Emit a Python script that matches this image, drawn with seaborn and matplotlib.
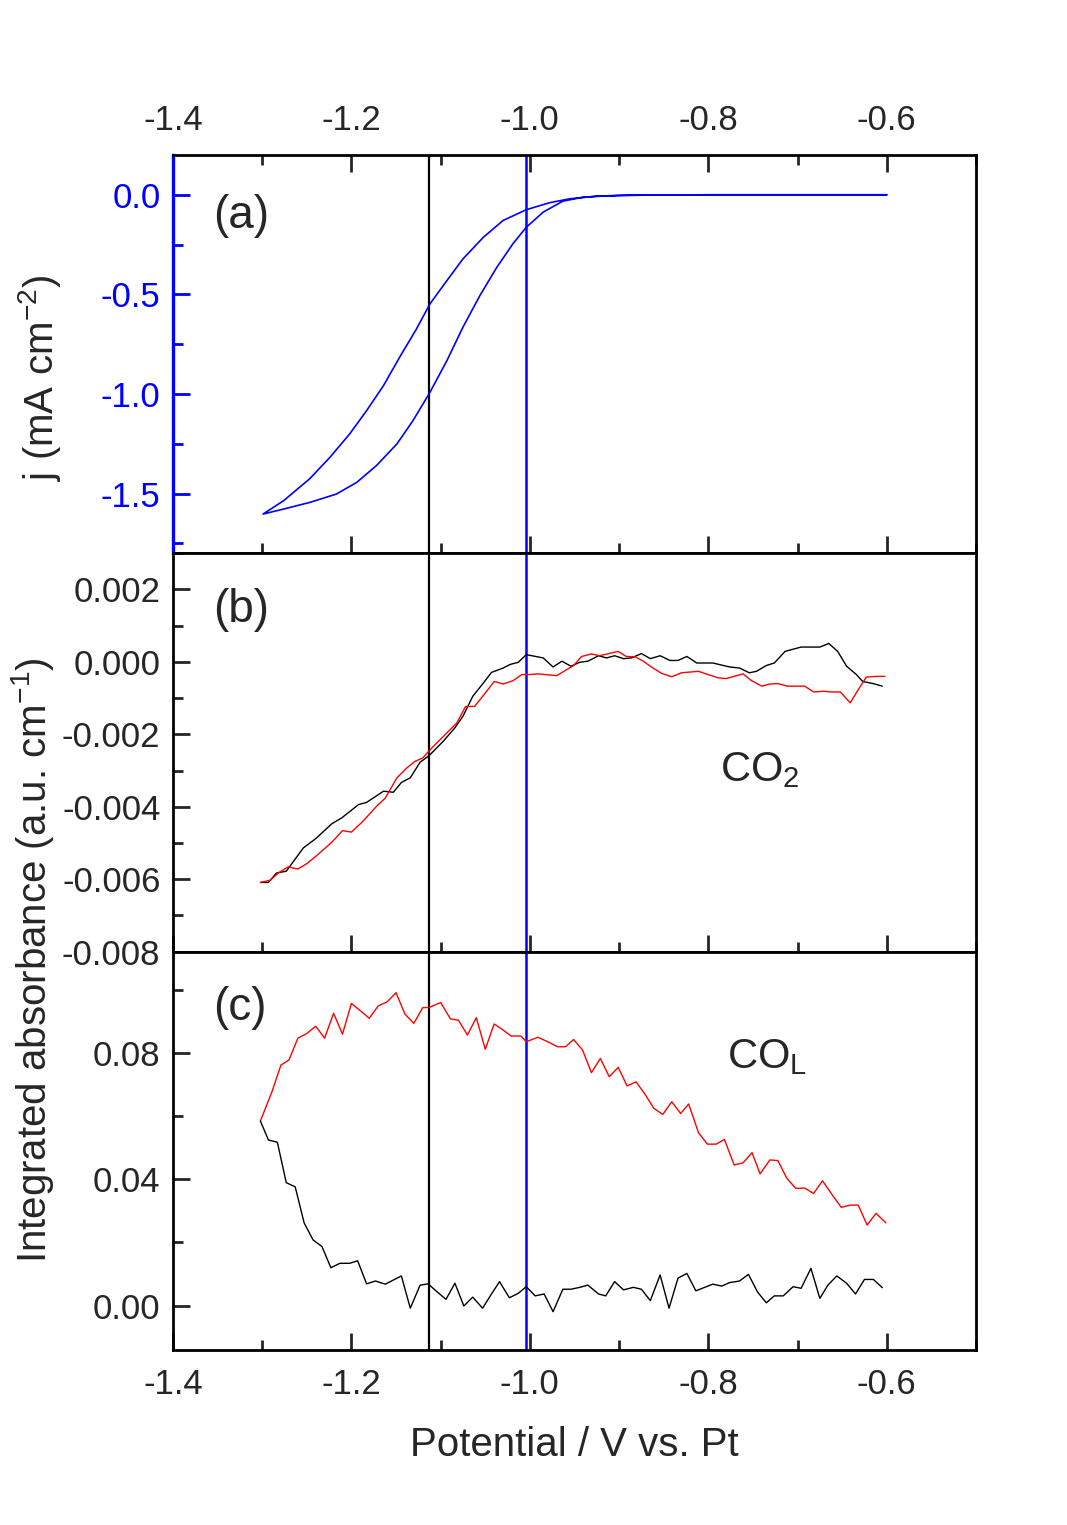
import numpy as np
import pandas as pd
import matplotlib
matplotlib.use("Agg")
import matplotlib.pyplot as plt
from matplotlib.ticker import MultipleLocator, FormatStrFormatter
import seaborn as sns

# (a) cyclic voltammogram: lower branch -0.6 -> -1.3, then upper branch back
cv_E = [-0.60, -0.70, -0.80, -0.88, -0.90, -0.92, -0.940, -0.963, -0.985, -1.004,
        -1.019, -1.037, -1.056, -1.075, -1.093, -1.112, -1.131, -1.149, -1.172, -1.194,
        -1.217, -1.247, -1.276, -1.299,
        -1.276, -1.247, -1.224, -1.202, -1.183, -1.164, -1.146, -1.127, -1.112, -1.093,
        -1.075, -1.052, -1.030, -1.004, -0.978, -0.955, -0.925, -0.90, -0.80, -0.70,
        -0.60]
cv_j = [0.0, 0.0, 0.0, -0.002, -0.004, -0.007, -0.012, -0.032, -0.087, -0.163,
        -0.246, -0.364, -0.506, -0.665, -0.833, -0.992, -1.134, -1.251, -1.360, -1.444,
        -1.503, -1.545, -1.578, -1.603,
        -1.536, -1.427, -1.318, -1.201, -1.084, -0.958, -0.816, -0.673, -0.548, -0.431,
        -0.322, -0.213, -0.129, -0.075, -0.040, -0.020, -0.007, -0.003, 0.0, 0.0,
        0.0]

# (b) CO2 integrated absorbance
co2_black_E = [-1.302, -1.293, -1.284, -1.273, -1.254, -1.239, -1.222, -1.211, -1.192, -1.183,
               -1.164, -1.153, -1.144, -1.134, -1.123, -1.113, -1.097, -1.084, -1.075, -1.064,
               -1.052, -1.043, -1.030, -1.022, -1.013, -1.004, -0.985, -0.974, -0.964, -0.954,
               -0.944, -0.935, -0.923, -0.914, -0.905, -0.895, -0.886, -0.875, -0.865, -0.854,
               -0.843, -0.834, -0.824, -0.813, -0.795, -0.776, -0.765, -0.754, -0.746, -0.735,
               -0.726, -0.714, -0.696, -0.675, -0.665, -0.655, -0.645, -0.634, -0.627, -0.615,
               -0.605]
co2_black_A = [-0.00609, -0.00609, -0.00583, -0.00578, -0.00514, -0.00486, -0.00447, -0.00431, -0.00394, -0.00388,
               -0.00357, -0.00360, -0.00333, -0.00320, -0.00277, -0.00259, -0.00219, -0.00182, -0.00150, -0.00095,
               -0.00058, -0.00029, -0.00017, -0.00007, -0.00001, 0.00020, 0.00011, -0.00014, 0.00002, -0.00012,
               -0.00001, 0.00002, 0.00017, 0.00011, 0.00017, 0.00009, 0.00011, 0.00023, 0.00009, 0.00017,
               0.00004, 0.00004, 0.00015, -0.00003, -0.00003, -0.00014, -0.00017, -0.00030, -0.00026, -0.00010,
               -0.00003, 0.00029, 0.00041, 0.00041, 0.00051, 0.00029, -0.00012, -0.00035, -0.00054, -0.00060,
               -0.00067]
co2_red_E = [-1.302, -1.291, -1.282, -1.271, -1.260, -1.250, -1.239, -1.222, -1.210, -1.200,
             -1.187, -1.172, -1.162, -1.149, -1.138, -1.129, -1.120, -1.110, -1.093, -1.082,
             -1.072, -1.062, -1.050, -1.040, -1.030, -1.019, -1.009, -1.000, -0.991, -0.970,
             -0.951, -0.942, -0.931, -0.922, -0.901, -0.892, -0.882, -0.873, -0.862, -0.852,
             -0.841, -0.830, -0.811, -0.800, -0.789, -0.780, -0.761, -0.752, -0.740, -0.731,
             -0.722, -0.711, -0.692, -0.682, -0.671, -0.662, -0.652, -0.641, -0.632, -0.623,
             -0.612, -0.602]
co2_red_A = [-0.00609, -0.00603, -0.00583, -0.00566, -0.00572, -0.00557, -0.00535, -0.00498, -0.00466, -0.00470,
             -0.00440, -0.00399, -0.00376, -0.00320, -0.00293, -0.00275, -0.00265, -0.00238, -0.00196, -0.00169,
             -0.00123, -0.00123, -0.00086, -0.00054, -0.00061, -0.00052, -0.00035, -0.00035, -0.00033, -0.00038,
             -0.00010, 0.00015, 0.00022, 0.00017, 0.00029, 0.00015, 0.00014, 0.00002, -0.00017, -0.00032,
             -0.00041, -0.00030, -0.00026, -0.00035, -0.00044, -0.00046, -0.00033, -0.00051, -0.00067, -0.00061,
             -0.00060, -0.00067, -0.00067, -0.00083, -0.00081, -0.00083, -0.00083, -0.00113, -0.00077, -0.00042,
             -0.00040, -0.00040]

# (c) linearly bonded CO integrated absorbance
col_red_E = [-1.302, -1.289, -1.279, -1.270, -1.260, -1.250, -1.240, -1.230, -1.220, -1.210,
             -1.200, -1.190, -1.180, -1.170, -1.160, -1.150, -1.140, -1.130, -1.120, -1.113,
             -1.100, -1.089, -1.080, -1.070, -1.060, -1.050, -1.040, -1.030, -1.021, -1.010,
             -1.004, -0.991, -0.980, -0.969, -0.960, -0.951, -0.941, -0.931, -0.921, -0.911,
             -0.901, -0.891, -0.881, -0.871, -0.861, -0.851, -0.841, -0.831, -0.822, -0.811,
             -0.801, -0.791, -0.782, -0.771, -0.761, -0.751, -0.742, -0.731, -0.722, -0.712,
             -0.702, -0.692, -0.682, -0.672, -0.661, -0.651, -0.641, -0.632, -0.622, -0.612,
             -0.601]
col_red_A = [0.0584, 0.0677, 0.0761, 0.0777, 0.0846, 0.0861, 0.0884, 0.0846, 0.0925, 0.0859,
             0.0956, 0.0933, 0.0909, 0.0948, 0.0961, 0.0990, 0.0922, 0.0893, 0.0943, 0.0943,
             0.0959, 0.0907, 0.0903, 0.0856, 0.0911, 0.0811, 0.0891, 0.0872, 0.0853, 0.0853,
             0.0835, 0.0849, 0.0835, 0.0819, 0.0819, 0.0842, 0.0809, 0.0737, 0.0782, 0.0724,
             0.0754, 0.0695, 0.0708, 0.0669, 0.0624, 0.0605, 0.0645, 0.0608, 0.0638, 0.0547,
             0.0511, 0.0511, 0.0526, 0.0445, 0.0452, 0.0484, 0.0417, 0.0461, 0.0459, 0.0403,
             0.0371, 0.0372, 0.0355, 0.0395, 0.0350, 0.0311, 0.0318, 0.0318, 0.0255, 0.0292,
             0.0262]
col_black_E = [-1.302, -1.293, -1.283, -1.273, -1.263, -1.253, -1.243, -1.233, -1.223, -1.213,
               -1.202, -1.193, -1.183, -1.173, -1.162, -1.153, -1.144, -1.134, -1.123, -1.114,
               -1.104, -1.094, -1.084, -1.074, -1.064, -1.053, -1.043, -1.034, -1.023, -1.013,
               -1.004, -0.994, -0.984, -0.974, -0.963, -0.954, -0.944, -0.935, -0.923, -0.915,
               -0.905, -0.895, -0.884, -0.875, -0.865, -0.854, -0.844, -0.834, -0.824, -0.814,
               -0.804, -0.795, -0.785, -0.776, -0.765, -0.755, -0.745, -0.735, -0.726, -0.716,
               -0.705, -0.696, -0.685, -0.675, -0.666, -0.656, -0.645, -0.635, -0.625, -0.615,
               -0.605]
col_black_A = [0.0584, 0.0524, 0.0517, 0.0389, 0.0376, 0.0262, 0.0208, 0.0187, 0.0120, 0.0134,
               0.0134, 0.0142, 0.0069, 0.0078, 0.0068, 0.0081, 0.0094, -0.0008, 0.0065, 0.0069,
               0.0044, 0.0020, 0.0071, -0.0001, 0.0027, -0.0008, 0.0037, 0.0076, 0.0025, 0.0039,
               0.0060, 0.0031, 0.0037, -0.0019, 0.0052, 0.0052, 0.0058, 0.0065, 0.0037, 0.0031,
               0.0076, 0.0050, 0.0058, 0.0052, 0.0016, 0.0097, -0.0008, 0.0087, 0.0102, 0.0047,
               0.0058, 0.0068, 0.0062, 0.0073, 0.0078, 0.0099, 0.0044, 0.0009, 0.0031, 0.0031,
               0.0060, 0.0055, 0.0118, 0.0023, 0.0065, 0.0094, 0.0071, 0.0037, 0.0083, 0.0083,
               0.0057]

v_black = -1.113
v_blue = -1.004

sns.set_theme(style="ticks")
plt.rcParams['font.family'] = ['Liberation Sans', 'DejaVu Sans']
plt.rcParams['mathtext.fontset'] = 'custom'
plt.rcParams['mathtext.rm'] = 'Liberation Sans'
plt.rcParams['mathtext.it'] = 'Liberation Sans'
plt.rcParams['axes.unicode_minus'] = False

fig, axes = plt.subplots(3, 1, figsize=(10.67, 15.25), dpi=100, sharex=True)
fig.subplots_adjust(left=0.1621, right=0.9147, top=0.8984, bottom=0.1148, hspace=0)

tick_fs = 25

sns.lineplot(x=cv_E, y=cv_j, sort=False, estimator=None, color='#0000FF', lw=1.2, ax=axes[0])
sns.lineplot(x=co2_black_E, y=co2_black_A, sort=False, estimator=None, color='black', lw=1.0, ax=axes[1])
sns.lineplot(x=co2_red_E, y=co2_red_A, sort=False, estimator=None, color='#FF0000', lw=1.0, ax=axes[1])
sns.lineplot(x=col_red_E, y=col_red_A, sort=False, estimator=None, color='#FF0000', lw=1.0, ax=axes[2])
sns.lineplot(x=col_black_E, y=col_black_A, sort=False, estimator=None, color='black', lw=1.0, ax=axes[2])

for ax in axes:
    ax.axvline(v_black, color='black', lw=1.6, zorder=1)
    ax.axvline(v_blue, color='#0000FF', lw=1.8, zorder=1)
    for s in ax.spines.values():
        s.set_linewidth(2.0)
        s.set_color('black')
    ax.set_xlim(-1.4, -0.5)
    ax.xaxis.set_major_locator(MultipleLocator(0.2))
    ax.xaxis.set_minor_locator(MultipleLocator(0.1))
    ax.tick_params(which='both', direction='in', width=2.0, labelsize=tick_fs,
                   top=False, right=False, left=True, bottom=True)
    ax.tick_params(which='major', length=12)
    ax.tick_params(which='minor', length=7)
    ax.tick_params(axis='y', pad=9)
    ax.set_xlabel('')
    ax.set_ylabel('')

# panel a
ax = axes[0]
ax.set_ylim(-1.8, 0.2)
ax.yaxis.set_major_locator(MultipleLocator(0.5))
ax.yaxis.set_minor_locator(MultipleLocator(0.25))
ax.yaxis.set_major_formatter(FormatStrFormatter('%.1f'))
ax.tick_params(axis='x', which='both', top=True, labeltop=True, labelbottom=False, pad=13)
ax.tick_params(axis='y', which='both', colors='#0000FF')
ax.spines['left'].set_color('#0000FF')
ax.spines['left'].set_linewidth(2.4)
ax.text(0.05, 0.847, '(a)', transform=ax.transAxes, fontsize=33, va='center', ha='left')

# panel b
ax = axes[1]
ax.set_ylim(-0.008, 0.003)
ax.yaxis.set_major_locator(MultipleLocator(0.002))
ax.yaxis.set_minor_locator(MultipleLocator(0.001))
ax.yaxis.set_major_formatter(FormatStrFormatter('%.3f'))
ax.text(0.05, 0.857, '(b)', transform=ax.transAxes, fontsize=33, va='center', ha='left')
ax.text(0.681, 0.456, 'CO$_2$', transform=ax.transAxes, fontsize=30, va='center', ha='left')

# panel c
ax = axes[2]
ax.set_ylim(-0.014, 0.112)
ax.yaxis.set_major_locator(MultipleLocator(0.04))
ax.yaxis.set_minor_locator(MultipleLocator(0.02))
ax.yaxis.set_major_formatter(FormatStrFormatter('%.2f'))
ax.tick_params(axis='x', which='both', labelbottom=True, pad=13)
ax.text(0.05, 0.859, '(c)', transform=ax.transAxes, fontsize=33, va='center', ha='left')
ax.text(0.69, 0.734, 'CO$_\\mathrm{L}$', transform=ax.transAxes, fontsize=30, va='center', ha='left')

fig.text(40 / 1067, 1 - 378 / 1525, 'j (mA cm$^{-2}$)', rotation=90,
         fontsize=29, va='center', ha='center')
fig.text(33 / 1067, 1 - 960 / 1525, 'Integrated absorbance (a.u. cm$^{-1}$)', rotation=90,
         fontsize=29, va='center', ha='center')
fig.text(0.5385, 1 - 1445 / 1525, 'Potential / V vs. Pt', fontsize=29, va='center', ha='center')

fig.savefig('out.png', dpi=100, facecolor='white')
